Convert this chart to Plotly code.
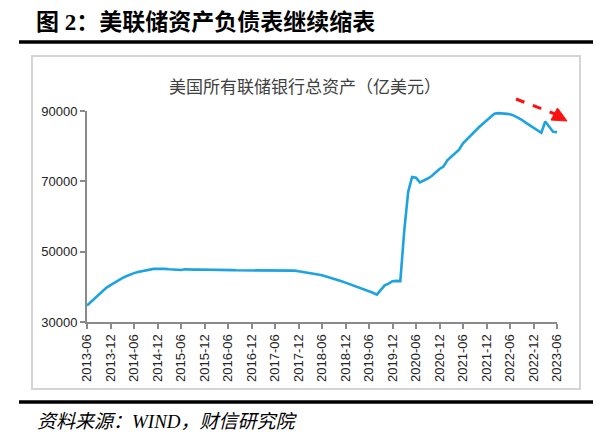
import plotly.graph_objects as go

# monthly total assets of all Federal Reserve banks, 100 million USD (2013-06 .. 2023-06)
months = [f"{y}-{m:02d}" for y in range(2013, 2024) for m in range(1, 13)]
months = months[months.index("2013-06"):months.index("2023-06") + 1]

assets_2013_2015 = [34700, 35700, 36800, 37800, 38800, 39800, 40500,
                    41200, 41800, 42500, 43000, 43500, 43900, 44200, 44400, 44800, 45000, 45100, 45100,
                    45200, 45100, 45000, 44900, 44800, 44800, 45000, 44900, 44900, 44950, 44950, 44900]
assets_2016_2018 = [44950, 44900, 44850, 44800, 44800, 44750, 44750, 44700, 44700, 44700, 44700, 44650,
                    44700, 44800, 44800, 44800, 44800, 44800, 44750, 44750, 44700, 44700, 44600, 44450,
                    44300, 44100, 43900, 43700, 43500, 43300, 43000, 42700, 42400, 42000, 41600, 41200]
assets_2019_2020 = [40800, 40400, 40100, 39600, 39200, 38700, 38300, 37800, 39000, 40400, 40900, 41600,
                    41700, 41600, 56000, 67000, 71200, 71000, 69700, 70200, 70800, 71500, 72500, 73500]
assets_2021_2023 = [74200, 76000, 77000, 78000, 79000, 80800, 82000, 83200, 84200, 85300, 86300, 87300,
                    88200, 89200, 89400, 89300, 89200, 89100, 88700, 88200, 87500, 86700, 86000, 85200,
                    84600, 83800, 87000, 85500, 84100, 84000]
assets = assets_2013_2015 + assets_2016_2018 + assets_2019_2020 + assets_2021_2023

tick_labels = months[::6]
y_ticks = [30000, 50000, 70000, 90000]

# the page body adds an 8px margin, so the figure is drawn 8px smaller
OFF = 8
W, H = 614 - OFF, 446 - OFF
L, R, T, B = 87 - OFF, 57, 111 - OFF, 124
pw, ph = W - L - R, H - T - B


def px(x):
    return (x - OFF - L) / pw


def py(y):
    return (H - B - (y - OFF)) / ph


fig = go.Figure()
fig.add_trace(go.Scatter(x=months, y=assets, mode="lines",
                         line=dict(color="#1ea3e0", width=2.6), showlegend=False))

# chart frame and the two black rules
shapes = [
    dict(type="rect", xref="paper", yref="paper", x0=px(32), x1=px(580), y0=py(389), y1=py(56),
         line=dict(color="#d4d4d4", width=2)),
    dict(type="line", xref="paper", yref="paper", x0=px(19), x1=px(593), y0=py(42), y1=py(42),
         line=dict(color="black", width=3.5)),
    dict(type="line", xref="paper", yref="paper", x0=px(19), x1=px(593), y0=py(402), y1=py(402),
         line=dict(color="black", width=3.5)),
    # red dashed arrow
    dict(type="line", xref="paper", yref="paper", x0=px(516), y0=py(99), x1=px(555), y1=py(114),
         line=dict(color="#ff1010", width=3, dash="dash")),
    dict(type="path", xref="paper", yref="paper",
         path=f"M {px(567)} {py(121)} L {px(557.5)} {py(108)} L {px(551)} {py(120)} Z",
         fillcolor="#ff1010", line=dict(color="#ff1010", width=1)),
]

annotations = [
    dict(text="<b>图 2\uff1a美联储资产负债表继续缩表</b>", xref="paper", yref="paper",
         x=px(34), y=py(23), xanchor="left", yanchor="middle", showarrow=False,
         font=dict(family="Liberation Serif, Noto Sans CJK SC", size=23, color="black")),
    dict(text="美国所有联储银行总资产\uff08亿美元\uff09", xref="paper", yref="paper",
         x=px(305), y=py(85), xanchor="center", yanchor="middle", showarrow=False,
         font=dict(family="Noto Sans CJK SC", size=17, color="#404040")),
    dict(text="<i>资料来源\uff1aWIND\uff0c财信研究院</i>", xref="paper", yref="paper",
         x=px(35), y=py(421), xanchor="left", yanchor="middle", showarrow=False,
         font=dict(family="Liberation Serif, Noto Sans CJK SC", size=19, color="black")),
]

fig.update_layout(
    width=W, height=H,
    margin=dict(l=L, r=R, t=T, b=B),
    paper_bgcolor="white", plot_bgcolor="white",
    shapes=shapes, annotations=annotations,
    font=dict(family="Liberation Sans", size=13, color="#222"),
)
fig.update_xaxes(type="category", range=[0, len(months) - 1], tickmode="array",
                 tickvals=tick_labels, ticktext=tick_labels, tickangle=-90,
                 showline=True, linecolor="#8a8a8a", linewidth=2, ticks="outside",
                 ticklen=5, tickcolor="#8a8a8a", tickwidth=2, showgrid=False, zeroline=False)
fig.update_yaxes(range=[30000, 90000], tickvals=y_ticks, tickformat="d",
                 showline=True, linecolor="#8a8a8a", linewidth=2, ticks="outside",
                 ticklen=5, tickcolor="#8a8a8a", tickwidth=2, showgrid=False, zeroline=False)

fig.write_html("out.html")
